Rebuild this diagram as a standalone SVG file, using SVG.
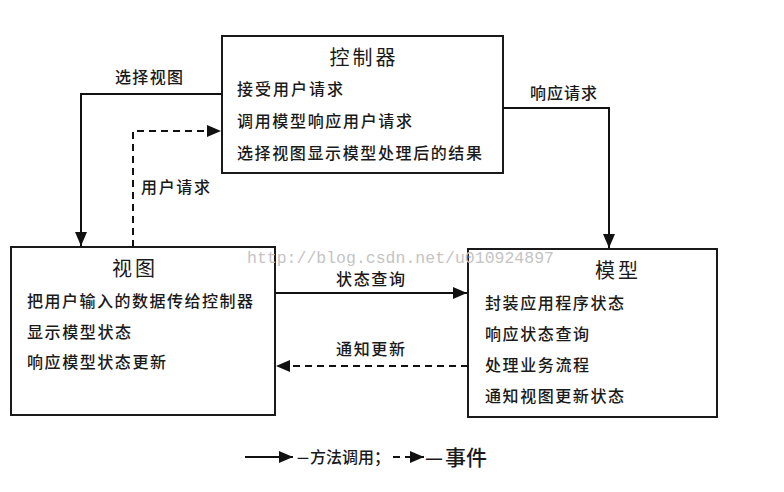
<svg xmlns="http://www.w3.org/2000/svg" width="784" height="492" viewBox="0 0 784 492">
<style>
.box{fill:#fff;stroke:#1a1a1a;stroke-width:2}
.t{font-family:"Noto Sans CJK SC","Noto Sans",sans-serif;fill:#1a1a1a;font-size:16px;font-weight:500}
.title{font-size:20px;text-anchor:middle;letter-spacing:3px;font-weight:400}
.ln{fill:none;stroke:#111;stroke-width:2}
.dash{stroke-dasharray:7,5}
.wm{font-family:"Liberation Mono",monospace;font-size:16.5px;fill:#c4c4c4}
</style>
<defs>
<marker id="ah" viewBox="0 0 14 12" refX="14" refY="6" markerWidth="14" markerHeight="12" markerUnits="userSpaceOnUse" orient="auto">
<path d="M0,0 L14,6 L0,12 Z" fill="#111"/>
</marker>
</defs>
<rect width="784" height="492" fill="#fff"/>
<g id="controller">
<rect class="box" x="222" y="36" width="281" height="137"/>
<text class="t title" x="364" y="65">控制器</text>
<text class="t" x="237" y="95" textLength="106">接受用户请求</text>
<text class="t" x="237" y="127" textLength="175">调用模型响应用户请求</text>
<text class="t" x="237" y="159" textLength="245">选择视图显示模型处理后的结果</text>
</g>
<g id="view">
<rect class="box" x="11" y="247" width="264" height="168"/>
<text class="t title" x="135" y="276">视图</text>
<text class="t" x="27" y="307" textLength="226">把用户输入的数据传给控制器</text>
<text class="t" x="27" y="338" textLength="104">显示模型状态</text>
<text class="t" x="27" y="368" textLength="139">响应模型状态更新</text>
</g>
<g id="model">
<rect class="box" x="468" y="249" width="249" height="168"/>
<text class="t title" x="618" y="278">模型</text>
<text class="t" x="485" y="309" textLength="139">封装应用程序状态</text>
<text class="t" x="485" y="340" textLength="104">响应状态查询</text>
<text class="t" x="485" y="371" textLength="104">处理业务流程</text>
<text class="t" x="485" y="402" textLength="139">通知视图更新状态</text>
</g>
<text class="wm" x="247" y="263">http://blog.csdn.net/u010924897</text>
<g id="connectors">
<polyline class="ln" points="222,94 81,94 81,246" marker-end="url(#ah)"/>
<polyline class="ln dash" points="133,247 133,131 221,131" marker-end="url(#ah)"/>
<polyline class="ln" points="503,108 609,108 609,248" marker-end="url(#ah)"/>
<line class="ln" x1="275" y1="293" x2="467" y2="293" marker-end="url(#ah)"/>
<line class="ln dash" x1="468" y1="366" x2="276" y2="366" marker-end="url(#ah)"/>
<text class="t" x="115" y="83" textLength="68">选择视图</text>
<text class="t" x="141" y="193" textLength="69">用户请求</text>
<text class="t" x="530" y="99" textLength="67">响应请求</text>
<text class="t" x="336" y="285" textLength="69">状态查询</text>
<text class="t" x="336" y="355" textLength="69">通知更新</text>
</g>
<g id="legend">
<line class="ln" x1="245" y1="457" x2="293" y2="457" marker-end="url(#ah)"/>
<text class="t" x="297" y="463" style="font-size:16px"><tspan textLength="12" lengthAdjust="spacingAndGlyphs">—</tspan><tspan x="310">方法调用；</tspan></text>
<line class="ln dash" x1="393" y1="457" x2="424" y2="457" stroke-dasharray="4,5" marker-end="url(#ah)"/>
<text class="t" y="465" style="font-size:21px"><tspan x="425" textLength="18" lengthAdjust="spacingAndGlyphs">—</tspan><tspan x="445">事件</tspan></text>
</g>
</svg>
